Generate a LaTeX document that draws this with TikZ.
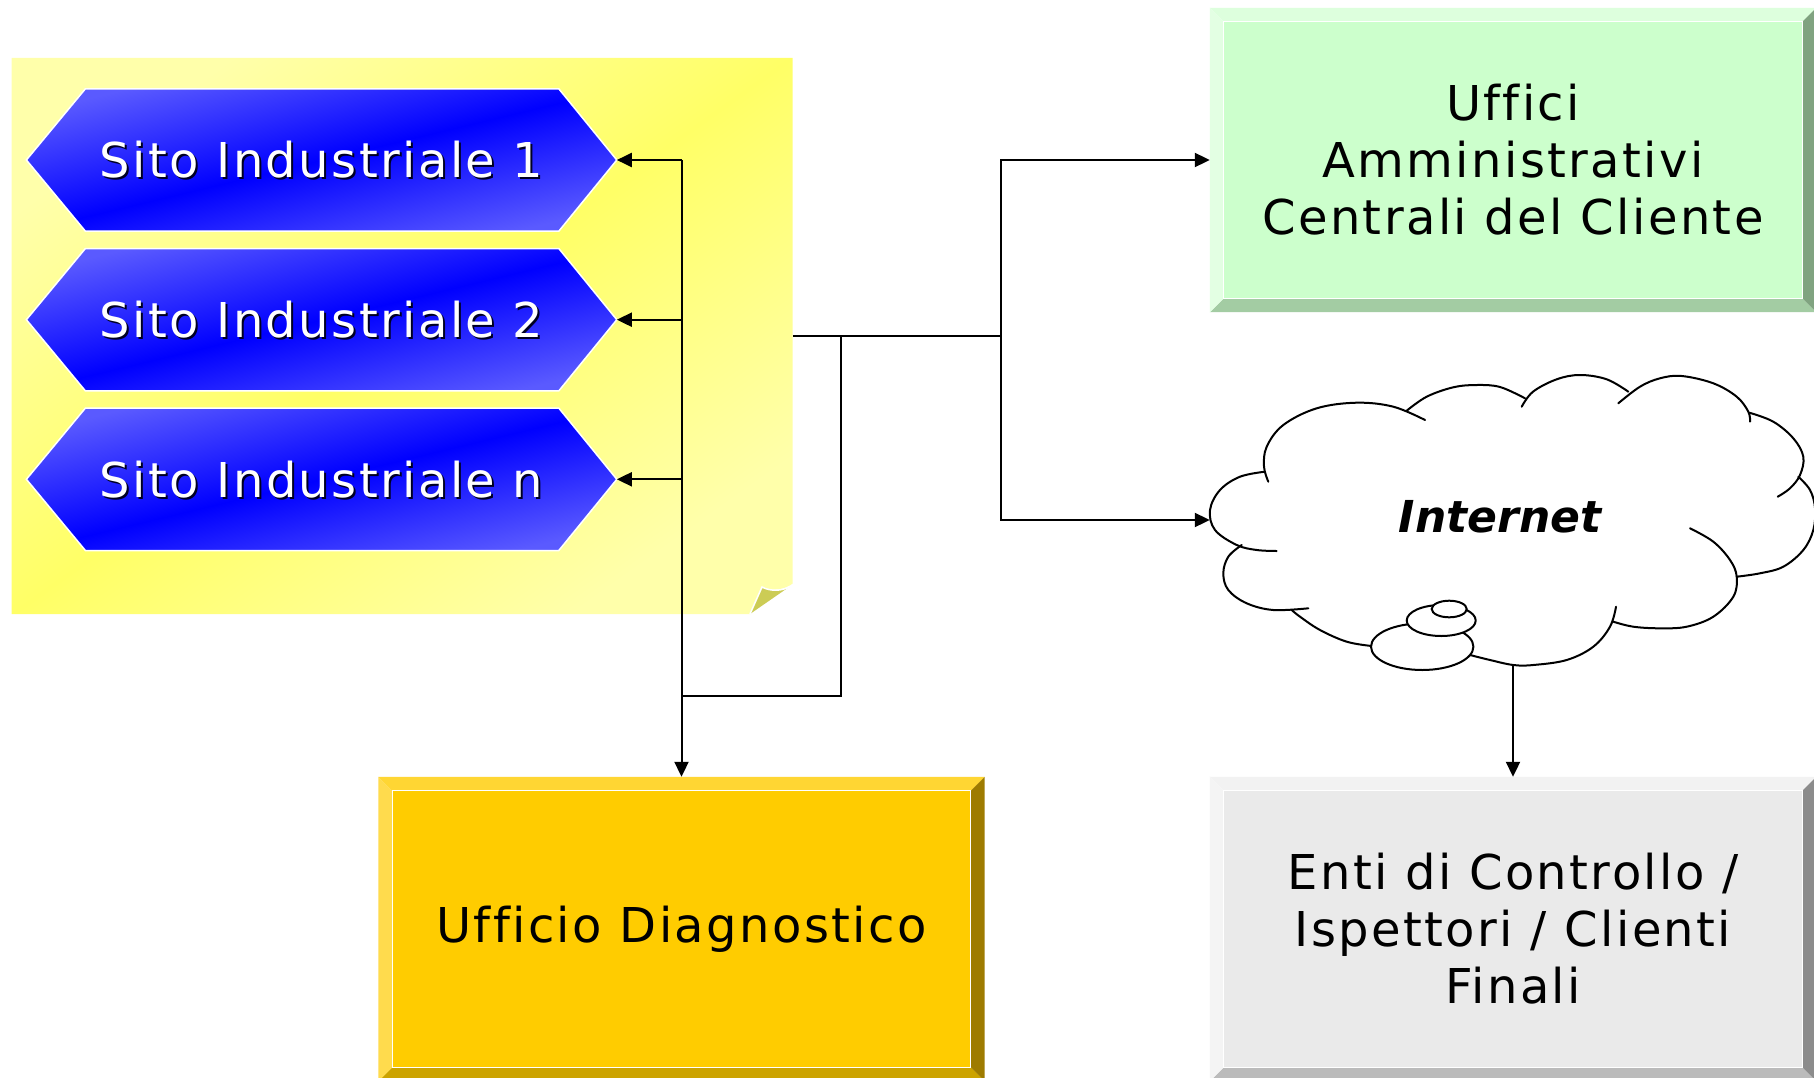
\documentclass[tikz,border=0pt]{standalone}
\usepackage{fontspec}
\setmainfont{DejaVu Sans}[LetterSpace=5,Ligatures=NoCommon]
\newfontfamily\inetfont{DejaVu Sans}
\usetikzlibrary{arrows.meta,calc}
\pgfdeclarelayer{background}
\pgfsetlayers{background,main}
\definecolor{hexlight}{HTML}{5A5AFF}
\definecolor{hexdark}{HTML}{0000FF}
\definecolor{sitoshadowcol}{HTML}{000022}
\definecolor{notelight}{HTML}{FFFFAA}
\definecolor{notedark}{HTML}{FFFF66}
\definecolor{curlcol}{HTML}{CCCC55}
\definecolor{gin}{HTML}{CCFFCC}
\definecolor{gtop}{HTML}{DDFFDD}
\definecolor{gleft}{HTML}{E3FFE3}
\definecolor{gbot}{HTML}{A3CCA3}
\definecolor{gright}{HTML}{80A380}
\definecolor{din}{HTML}{FFCC00}
\definecolor{dtop}{HTML}{FFD633}
\definecolor{dleft}{HTML}{FFDB4D}
\definecolor{dbot}{HTML}{CCA300}
\definecolor{dright}{HTML}{9E7B00}
\definecolor{ein}{HTML}{EAEAEA}
\definecolor{etop}{HTML}{F2F2F2}
\definecolor{eleft}{HTML}{F4F4F4}
\definecolor{ebot}{HTML}{BBBBBB}
\definecolor{eright}{HTML}{8C8C8C}
\newcommand\drawbevel[6]{%
  \fill[#3] (#1.north west) -- (#1.north east) -- ([shift={(-14pt,-14pt)}]#1.north east) -- ([shift={(14pt,-14pt)}]#1.north west) -- cycle;
  \fill[#5] (#1.south west) -- (#1.south east) -- ([shift={(-14pt,14pt)}]#1.south east) -- ([shift={(14pt,14pt)}]#1.south west) -- cycle;
  \fill[#4] (#1.north west) -- ([shift={(14pt,-14pt)}]#1.north west) -- ([shift={(14pt,14pt)}]#1.south west) -- (#1.south west) -- cycle;
  \fill[#6] (#1.north east) -- ([shift={(-14pt,-14pt)}]#1.north east) -- ([shift={(-14pt,14pt)}]#1.south east) -- (#1.south east) -- cycle;
  \draw[white, line width=1.2pt, fill=#2] ([shift={(14pt,-14pt)}]#1.north west) rectangle ([shift={(-14pt,14pt)}]#1.south east);
}
\tikzset{
  conn/.style={line width=2pt, black},
  arrowconn/.style={conn, -{Triangle[length=15pt,width=14pt]}},
  sitotext/.style={text=white, font=\fontsize{48}{57}\selectfont, minimum width=590pt, minimum height=142pt, inner sep=0pt},
  hexshade/.style={shade, top color=hexlight, bottom color=hexlight, middle color=hexdark, shading angle=13.5, draw=white, line width=1.5pt},
  noteshade/.style={shade, top color=notelight, bottom color=notelight, middle color=notedark, shading angle=35.5},
  notenode/.style={minimum width=781pt, minimum height=556.2pt, inner sep=0pt},
  boxnode/.style={minimum width=606pt, minimum height=304pt, inner sep=0pt, align=center, font=\fontsize{48}{57}\selectfont},
  cloudnode/.style={minimum width=606pt, minimum height=289pt, inner sep=0pt},
  inettext/.style={font=\inetfont\bfseries\itshape\fontsize{44}{50}\selectfont, inner sep=0pt},
  cloudline/.style={line width=2pt, black, line cap=round},
}
\begin{document}
\begin{tikzpicture}[x=1pt,y=-1pt]
\useasboundingbox (0,0) rectangle (1814,1078);
% yellow note
\node[notenode] (note) at (402.2,335.9) {};
\begin{pgfonlayer}{background}
\fill[white] (0,0) rectangle (1814,1078);
\path[noteshade] (11.7,57.8) -- (792.7,57.8) -- (792.7,583.5) .. controls (785,589.5) and (771,592) .. (762,587) -- (750,614) -- (11.7,614) -- cycle;
\fill[curlcol] (762,587) .. controls (771,592) and (783,590.5) .. (789,587) -- (750,614) -- cycle;
\draw[white, line width=1.5pt] (750,614) -- (762,587) .. controls (771,592) and (783,590.5) .. (789,587);
\end{pgfonlayer}
% hexagons
\foreach \n/\y/\t in {s1/160/{Sito Industriale 1}, s2/319.7/{Sito Industriale 2}, s3/479.3/{Sito Industriale n}} {
  \node[sitotext, text=sitoshadowcol] (\n sh) at (323.6,\y+2) {\t};
  \node[sitotext] (\n) at (321.6,\y) {\t};
  \begin{pgfonlayer}{background}
    \path[hexshade] (\n.west) -- ([xshift=59pt]\n.north west) -- ([xshift=-58pt]\n.north east) -- (\n.east) -- ([xshift=-58pt]\n.south east) -- ([xshift=59pt]\n.south west) -- cycle;
  \end{pgfonlayer}
}
% boxes
\node[boxnode] (green) at (1513,160) {Uffici\\Amministrativi\\Centrali del Cliente};
\node[boxnode] (diag) at (681.5,929) {Ufficio Diagnostico};
\node[boxnode] (enti) at (1513,929) {Enti di Controllo /\\Ispettori / Clienti\\Finali};
\begin{pgfonlayer}{background}
\drawbevel{green}{gin}{gtop}{gleft}{gbot}{gright}
\drawbevel{diag}{din}{dtop}{dleft}{dbot}{dright}
\drawbevel{enti}{ein}{etop}{eleft}{ebot}{eright}
\end{pgfonlayer}
% cloud
\node[cloudnode] (cloud) at (1513,520) {};
\node[inettext] (inet) at (1500,517) {Internet};
\draw[cloudline] plot[smooth, tension=0.6] coordinates {(1265,471.7) (1240,476.7) (1220,490) (1210,510) (1215,530) (1236.7,545) (1256.7,550) (1276.7,551)};
\draw[cloudline] plot[smooth, tension=0.6] coordinates {(1241.7,545) (1228.3,556.7) (1223.3,573.3) (1228.3,590) (1246.7,603.3) (1273.3,610) (1308.3,608.3)};
\draw[cloudline] plot[smooth, tension=0.6] coordinates {(1291.7,610) (1300,616.7) (1320,630) (1346.7,641.7) (1371.7,646)};
\draw[cloudline] plot[smooth, tension=0.6] coordinates {(1268.3,481.7) (1264,466.7) (1266.7,446.7) (1283.3,425) (1316.7,408.3) (1356.7,402.7) (1393.3,406.7) (1425,420)};
\draw[cloudline] plot[smooth, tension=0.6] coordinates {(1406.7,410.7) (1426.7,396.7) (1453.3,387.3) (1476.7,385) (1500,387) (1525,398.3)};
\draw[cloudline] plot[smooth, tension=0.6] coordinates {(1521.7,406.7) (1533,391.7) (1556.7,379.3) (1580,375) (1606.7,379.3) (1628.3,391.7)};
\draw[cloudline] plot[smooth, tension=0.6] coordinates {(1618.3,403.3) (1640,386.7) (1660,378.3) (1681.7,376) (1713.3,383.3) (1736.7,396.7) (1748.3,411.7) (1750,421.7)};
\draw[cloudline] plot[smooth, tension=0.6] coordinates {(1749.3,412.7) (1773.3,421.7) (1793.3,438.3) (1803.3,456.7) (1800,475) (1790,488.3) (1777.7,496.7)};
\draw[cloudline] plot[smooth, tension=0.6] coordinates {(1798.3,476.7) (1810,490) (1815,508) (1813.3,530) (1803.3,550) (1783.3,566.7) (1760,573.3) (1736.7,576.7)};
\draw[cloudline] plot[smooth, tension=0.6] coordinates {(1690,528.3) (1713.3,541.7) (1730,560) (1736.7,576.7) (1733.3,596.7) (1713.3,616.7) (1686.7,626.7) (1660,628.3) (1633.3,626.7) (1613.3,621.7)};
\draw[cloudline] plot[smooth, tension=0.6] coordinates {(1616,606.7) (1610,626.7) (1593.3,646.7) (1566.7,660) (1533.3,665) (1513.3,665) (1490,660) (1470,655)};
\draw[cloudline, fill=white] (1422.2,646.7) ellipse [x radius=51.2, y radius=23.3];
\draw[cloudline, fill=white] (1441.2,620.5) ellipse [x radius=34.5, y radius=15.5];
\draw[cloudline, fill=white] (1449.2,609) ellipse [x radius=17.5, y radius=8.3];
% connectors
\coordinate (split) at ([xshift=208pt]note.east);
\coordinate (drop) at ([xshift=48.3pt]note.east);
\coordinate (busjoin) at ([yshift=80.4pt]diag.north);
\coordinate (bustop) at (s1.east -| diag.north);
\draw[conn] (note.east) -- (split);
\draw[arrowconn] (split) |- (green.west);
\draw[arrowconn] (split) |- (cloud.west);
\draw[conn] (drop) |- (busjoin);
\draw[arrowconn] (bustop) -- (diag.north);
\foreach \s in {s1,s2,s3} {\draw[arrowconn] (\s.east -| diag.north) -- (\s.east);}
\draw[arrowconn] (cloud.south) -- (enti.north);
\end{tikzpicture}
\end{document}
